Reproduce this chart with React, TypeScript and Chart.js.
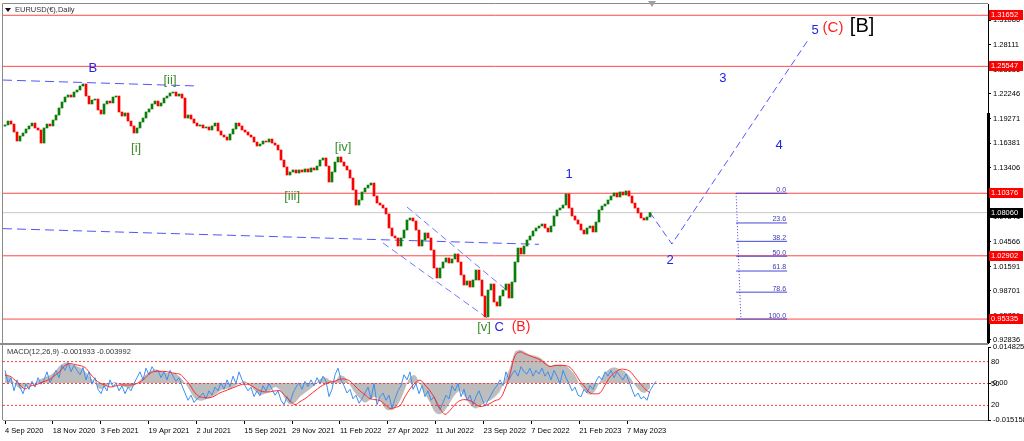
import React, { useEffect, useRef } from 'react';
import { Chart, registerables } from 'chart.js';

Chart.register(...registerables);

const FONT = '"Liberation Sans", Arial, sans-serif';

// ---------- DATA ----------
const firstOpen = 1.1840;
const closes = [
  1.1854, 1.1901, 1.1865, 1.1770, 1.1662, 1.1722, 1.1758, 1.1806, 1.1842, 1.1877, 1.1818, 1.1794,
  1.1638, 1.1818, 1.1865, 1.1842, 1.1913, 1.1973, 1.2057, 1.2129, 1.2188, 1.2212, 1.2188, 1.2248,
  1.2272, 1.2320, 1.2344, 1.2200, 1.2105, 1.2152, 1.2164, 1.2033, 1.1985, 1.2105, 1.2140, 1.2117,
  1.2188, 1.2200, 1.2009, 1.1961, 1.1997, 1.1901, 1.1842, 1.1758, 1.1818, 1.1889, 1.1937, 1.2009,
  1.2045, 1.2105, 1.2140, 1.2081, 1.2117, 1.2176, 1.2200, 1.2236, 1.2248, 1.2200, 1.2224, 1.2176,
  1.1937, 1.1973, 1.1925, 1.1877, 1.1842, 1.1854, 1.1818, 1.1830, 1.1794, 1.1842, 1.1877, 1.1782,
  1.1734, 1.1710, 1.1674, 1.1746, 1.1806, 1.1877, 1.1842, 1.1794, 1.1770, 1.1734, 1.1710, 1.1650,
  1.1603, 1.1626, 1.1662, 1.1650, 1.1686, 1.1638, 1.1614, 1.1555, 1.1435, 1.1352, 1.1256, 1.1292,
  1.1316, 1.1280, 1.1316, 1.1292, 1.1328, 1.1292, 1.1340, 1.1316, 1.1363, 1.1435, 1.1459, 1.1363,
  1.1172, 1.1292, 1.1411, 1.1471, 1.1411, 1.1363, 1.1316, 1.1220, 1.1077, 1.0897, 1.0957, 1.1053,
  1.1101, 1.1136, 1.1160, 1.1005, 1.0921, 1.0897, 1.0861, 1.0790, 1.0622, 1.0527, 1.0503, 1.0407,
  1.0503, 1.0598, 1.0718, 1.0742, 1.0706, 1.0598, 1.0407, 1.0479, 1.0563, 1.0503, 1.0359, 1.0144,
  1.0025, 1.0144, 1.0216, 1.0264, 1.0204, 1.0252, 1.0312, 1.0216, 1.0061, 0.9941, 0.9989, 0.9917,
  1.0001, 1.0120, 1.0001, 0.9810, 0.9560, 0.9881, 0.9953, 0.9738, 0.9690, 0.9810, 0.9881, 0.9953,
  0.9786, 0.9977, 1.0216, 1.0383, 1.0312, 1.0407, 1.0479, 1.0527, 1.0587, 1.0622, 1.0646, 1.0670,
  1.0622, 1.0575, 1.0646, 1.0766, 1.0838, 1.0861, 1.0897, 1.1030, 1.0861, 1.0766, 1.0718, 1.0670,
  1.0598, 1.0551, 1.0622, 1.0646, 1.0575, 1.0694, 1.0838, 1.0885, 1.0909, 1.0957, 1.1005, 1.1041,
  1.0993, 1.1053, 1.1017, 1.1065, 1.1005, 1.0921, 1.0861, 1.0802, 1.0742, 1.0718, 1.0754, 1.0806,
];

const priceTicks = [1.31086, 1.28111, 1.25136, 1.22246, 1.19271, 1.16381, 1.13406, 1.10431, 1.07541, 1.04566, 1.01591, 0.98701, 0.95726, 0.92836];
const levelLines = [1.31652, 1.25547, 1.10376, 1.02902, 0.95335];
const currentPrice = 1.0806;
const dateLabels = ['4 Sep 2020', '18 Nov 2020', '3 Feb 2021', '19 Apr 2021', '2 Jul 2021', '15 Sep 2021', '29 Nov 2021', '11 Feb 2022', '27 Apr 2022', '11 Jul 2022', '23 Sep 2022', '7 Dec 2022', '21 Feb 2023', '7 May 2023'];

const fibHigh = 1.10376;
const fibLow = 0.95335;
const fibLevels = [0, 23.6, 38.2, 50, 61.8, 78.6, 100];

// trend lines as [candle index, price]
const lineB = [[-0.67, 1.2391], [64, 1.2320]];
const lineLong = [[-0.67, 1.0615], [178, 1.0427]];
const wedgeUpper = [[134, 1.0873], [168.3, 0.9846]];
const wedgeLower = [[126, 1.0443], [160.7, 0.9547]];
const projection = [[215, 1.0806], [222.3, 1.0431], [267.7, 1.2870]];
const fibSpan = [243.7, 260.7];
const fibStem = [[243.7, 1.10376], [245.3, 0.95335]];

// wave labels: text, candle index, price, colour, font size
const BLUE = '#2222e8';
const GREEN = '#3a8f2c';
const RED = '#ff1f1f';
const waveLabels: [string, number, number, string, number][] = [
  ['B', 29.3, 1.2535, BLUE, 13],
  ['[ii]', 55, 1.2391, GREEN, 13],
  ['[i]', 43.7, 1.1579, GREEN, 13],
  ['[iii]', 95.7, 1.1005, GREEN, 13],
  ['[iv]', 112.7, 1.1591, GREEN, 13],
  ['[v]', 159.7, 0.9439, GREEN, 13],
  ['C', 164.7, 0.9439, BLUE, 13],
  ['(B)', 172, 0.9439, RED, 14],
  ['1', 188, 1.1268, BLUE, 13],
  ['2', 221.7, 1.0240, BLUE, 13],
  ['3', 239.3, 1.2415, BLUE, 13],
  ['4', 258, 1.1614, BLUE, 13],
  ['5', 270, 1.2989, BLUE, 13],
  ['(C)', 276, 1.3013, RED, 15],
  ['[B]', 285.7, 1.3037, '#000000', 20],
];

// MACD panel (samples every 5/3 candles)
const macdMain = [
  0.0044, 0.0024, -0.0004, -0.0024, -0.0016, -0.0008, 0, 0.0016, 0.0024, 0.0032, 0.0048, 0.0072,
  0.0084, 0.0080, 0.0072, 0.0064, 0.0048, 0.0024, 0, -0.0024, -0.0016, -0.0004, 0.0004, -0.0008,
  -0.0016, -0.0020, -0.0008, 0.0012, 0.0032, 0.0048, 0.0056, 0.0052, 0.0044, 0.0040, 0.0040, 0.0024,
  0, -0.0032, -0.0064, -0.0072, -0.0068, -0.0060, -0.0048, -0.0032, -0.0024, -0.0024, -0.0012, 0,
  0.0008, -0.0008, -0.0032, -0.0048, -0.0044, -0.0032, -0.0016, -0.0028, -0.0064, -0.0088, -0.0080, -0.0056,
  -0.0040, -0.0024, -0.0008, 0.0016, 0.0024, 0.0012, 0.0008, 0.0032, 0.0024, -0.0008, -0.0040, -0.0064,
  -0.0080, -0.0068, -0.0056, -0.0072, -0.0104, -0.0112, -0.0104, -0.0072, -0.0024, 0.0024, 0.0032, -0.0004,
  -0.0044, -0.0080, -0.0120, -0.0128, -0.0112, -0.0080, -0.0048, -0.0032, -0.0056, -0.0088, -0.0104, -0.0096,
  -0.0080, -0.0072, -0.0056, -0.0032, 0.0016, 0.0064, 0.0128, 0.0136, 0.0128, 0.0116, 0.0112, 0.0104,
  0.0088, 0.0072, 0.0076, 0.0076, 0.0072, 0.0056, 0.0032, -0.0008, -0.0032, -0.0048, -0.0032, 0.0008,
  0.0040, 0.0060, 0.0064, 0.0056, 0.0048, 0.0024, -0.0008, -0.0032, -0.0040, -0.0020,
];
const macdSignal = [
  0.0032, 0.0028, 0.0012, -0.0008, -0.0024, -0.0012, -0.0008, 0, 0.0008, 0.0016, 0.0032, 0.0048,
  0.0072, 0.0080, 0.0076, 0.0072, 0.0064, 0.0040, 0.0016, 0, -0.0008, -0.0016, -0.0012, -0.0008,
  -0.0008, -0.0008, -0.0004, 0.0004, 0.0020, 0.0040, 0.0048, 0.0048, 0.0048, 0.0044, 0.0040, 0.0036,
  0.0016, -0.0008, -0.0040, -0.0056, -0.0060, -0.0060, -0.0052, -0.0040, -0.0032, -0.0024, -0.0016, -0.0008,
  -0.0004, -0.0008, -0.0020, -0.0032, -0.0036, -0.0036, -0.0032, -0.0032, -0.0052, -0.0072, -0.0088, -0.0076,
  -0.0064, -0.0048, -0.0032, -0.0016, -0.0004, 0.0004, 0.0008, 0.0016, 0.0016, 0.0008, -0.0012, -0.0032,
  -0.0048, -0.0064, -0.0068, -0.0072, -0.0088, -0.0104, -0.0100, -0.0092, -0.0056, -0.0024, 0, 0.0012,
  -0.0008, -0.0032, -0.0064, -0.0104, -0.0128, -0.0112, -0.0088, -0.0072, -0.0068, -0.0072, -0.0084, -0.0096,
  -0.0092, -0.0084, -0.0072, -0.0064, -0.0024, 0.0036, 0.0112, 0.0128, 0.0120, 0.0112, 0.0104, 0.0096,
  0.0080, 0.0068, 0.0072, 0.0072, 0.0072, 0.0064, 0.0040, 0.0008, -0.0016, -0.0040, -0.0044, -0.0040,
  -0.0008, 0.0024, 0.0044, 0.0056, 0.0056, 0.0048, 0.0024, 0, -0.0024, -0.0040,
];
// oscillator (0-100 scale), one value per candle
const oscillator = [
  68, 51, 58, 40, 55, 45, 36, 49, 42, 53, 45, 58, 49, 55, 66, 51, 60, 68, 58, 75, 68, 79, 66, 75, 68, 62, 72, 55, 66, 49,
  58, 42, 36, 47, 40, 55, 45, 51, 40, 47, 36, 45, 40, 50, 58, 66, 55, 71, 62, 73, 66, 68, 58, 66, 55, 68, 60, 53, 58, 47,
  37, 27, 34, 24, 29, 32, 37, 29, 40, 34, 45, 40, 51, 42, 55, 46, 60, 50, 66, 55, 47, 40, 45, 32, 40, 33, 47, 40, 50, 42,
  34, 40, 27, 21, 32, 24, 37, 45, 51, 42, 53, 46, 55, 47, 58, 50, 60, 53, 32, 42, 62, 71, 55, 47, 37, 42, 29, 34, 23, 29,
  37, 45, 29, 50, 21, 32, 37, 27, 34, 16, 29, 40, 47, 62, 55, 66, 42, 50, 36, 47, 32, 40, 27, 32, 21, 14, 24, 34, 29, 47,
  40, 50, 32, 42, 27, 34, 21, 32, 40, 29, 19, 27, 34, 42, 47, 55, 47, 66, 55, 63, 68, 60, 73, 66, 63, 71, 60, 68, 63, 71,
  60, 66, 55, 68, 60, 50, 68, 58, 50, 40, 45, 34, 32, 42, 37, 47, 42, 53, 60, 55, 66, 60, 68, 58, 66, 60, 55, 63, 53, 42,
  32, 37, 29, 32, 27, 40, 47, 53,
];
const macdTicks = [0.014825, 0, -0.015158];
const oscLevels = [80, 50, 20];

// ---------- LAYOUT CONSTANTS ----------
const X_MIN = -0.67;
const X_MAX = 327.67;
const DATE_TICK_EVERY = 15.95;
const MACD_STEP = 5 / 3;

const seg = (pts: number[][], color: string, dash: number[] = [], order = 5, width = 1) => ({
  type: 'line' as const,
  data: pts.map(([x, y]) => ({ x, y })),
  borderColor: color,
  borderWidth: width,
  borderDash: dash,
  pointRadius: 0,
  fill: false,
  tension: 0,
  order,
});

const noPad = (s: any) => {
  s.paddingTop = 0;
  s.paddingBottom = 0;
  s.paddingLeft = 0;
  s.paddingRight = 0;
};

function mainConfig(): any {
  const opens = closes.map((c, i) => (i === 0 ? firstOpen : closes[i - 1]));
  const candles = {
    type: 'bar' as const,
    data: closes.map((c, i) => ({ x: i, y: [opens[i], c] })),
    backgroundColor: closes.map((c, i) => (c >= opens[i] ? '#0b7d0b' : '#ff0000')),
    borderWidth: 0,
    barThickness: 2,
    minBarLength: 1,
    grouped: false,
    order: 0,
  };
  const fibPrice = (p: number) => fibHigh - ((fibHigh - fibLow) * p) / 100;
  const datasets: any[] = [
    candles,
    ...levelLines.map((v) => seg([[X_MIN, v], [X_MAX, v]], 'rgba(255,40,40,0.85)', [], 8)),
    seg([[X_MIN, currentPrice], [X_MAX, currentPrice]], '#c8c8c8', [], 9),
    seg(lineB, 'rgba(40,40,255,0.8)', [9, 5], 4),
    seg(lineLong, 'rgba(40,40,255,0.8)', [9, 5], 4),
    seg(wedgeUpper, 'rgba(60,60,255,0.7)', [7, 4], 4),
    seg(wedgeLower, 'rgba(60,60,255,0.7)', [7, 4], 4),
    seg(projection, 'rgba(40,40,255,0.8)', [7, 4], 4),
    seg(fibStem, 'rgba(40,40,220,0.9)', [1, 2], 4),
    ...fibLevels.map((p) => seg([[fibSpan[0], fibPrice(p)], [fibSpan[1], fibPrice(p)]], 'rgba(50,50,210,0.9)', [], 3)),
  ];

  const annotate = {
    id: 'annotate',
    afterDraw(chart: any) {
      const { ctx, scales } = chart;
      const x = scales.x;
      const y = scales.y;
      ctx.save();
      // frame
      ctx.strokeStyle = '#8a8a8a';
      ctx.lineWidth = 1;
      ctx.beginPath();
      ctx.moveTo(2.5, 343.5);
      ctx.lineTo(2.5, 3.5);
      ctx.lineTo(988, 3.5);
      ctx.stroke();
      ctx.fillStyle = '#000';
      ctx.fillRect(987, 113, 3, 230);
      // chart shift marker
      ctx.fillStyle = '#a0a0a0';
      ctx.beginPath();
      ctx.moveTo(648, 1);
      ctx.lineTo(656, 1);
      ctx.lineTo(652, 7);
      ctx.closePath();
      ctx.fill();
      // title
      ctx.fillStyle = '#111';
      ctx.beginPath();
      ctx.moveTo(5, 8);
      ctx.lineTo(11, 8);
      ctx.lineTo(8, 12);
      ctx.closePath();
      ctx.fill();
      ctx.font = `7.5px ${FONT}`;
      ctx.fillStyle = '#333';
      ctx.textAlign = 'left';
      ctx.textBaseline = 'middle';
      ctx.fillText('EURUSD(€),Daily', 15, 10);
      // wave labels
      ctx.textAlign = 'center';
      waveLabels.forEach(([t, i, p, color, size]) => {
        ctx.font = `${size}px ${FONT}`;
        ctx.fillStyle = color;
        ctx.fillText(t, x.getPixelForValue(i), y.getPixelForValue(p));
      });
      // fib labels
      ctx.font = `7px ${FONT}`;
      ctx.fillStyle = '#3a3ab8';
      ctx.textAlign = 'right';
      ctx.textBaseline = 'bottom';
      fibLevels.forEach((p) => {
        const py = y.getPixelForValue(fibPrice(p));
        ctx.fillText(p.toFixed(1), x.getPixelForValue(fibSpan[1]) - 1, py);
      });
      // price boxes
      ctx.font = `7.5px ${FONT}`;
      ctx.textAlign = 'left';
      ctx.textBaseline = 'middle';
      const box = (v: number, bg: string) => {
        const py = Math.round(y.getPixelForValue(v));
        ctx.fillStyle = bg;
        ctx.fillRect(989, py - 5, 34, 10);
        ctx.fillStyle = '#fff';
        ctx.fillText(v.toFixed(5), 991, py);
      };
      levelLines.forEach((v) => box(v, '#ff0000'));
      box(currentPrice, '#000000');
      ctx.restore();
    },
  };

  return {
    type: 'bar',
    data: { datasets },
    plugins: [annotate],
    options: {
      responsive: false,
      animation: false,
      devicePixelRatio: 1,
      layout: { padding: { left: 3, top: 4, bottom: 1, right: 0 } },
      plugins: { legend: { display: false }, tooltip: { enabled: false } },
      scales: {
        x: { type: 'linear', min: X_MIN, max: X_MAX, display: false, offset: false },
        y: {
          position: 'right',
          min: 0.92477,
          max: 1.33,
          afterBuildTicks: (s: any) => {
            s.ticks = priceTicks.map((v) => ({ value: v }));
          },
          afterFit: (s: any) => {
            s.width = 36;
            noPad(s);
          },
          ticks: {
            callback: (v: any) => Number(v).toFixed(5),
            font: { size: 7.5, family: FONT },
            color: '#000',
            padding: 2,
            autoSkip: false,
          },
          grid: { drawOnChartArea: false, drawTicks: true, tickLength: 3, color: '#000' },
          border: { display: true, color: '#000' },
        },
      },
    },
  };
}

function macdConfig(): any {
  const datasets: any[] = [
    {
      type: 'line',
      data: macdMain.map((v, j) => ({ x: j * MACD_STEP, y: v })),
      yAxisID: 'y',
      borderWidth: 0,
      borderColor: 'rgba(0,0,0,0)',
      backgroundColor: '#bdbdbd',
      fill: 'origin',
      pointRadius: 0,
      tension: 0.3,
      order: 6,
    },
    ...oscLevels.map((v) => ({
      ...seg([[X_MIN, v], [X_MAX, v]], 'rgba(255,40,40,0.9)', [2, 2], 4),
      yAxisID: 'y2',
    })),
    {
      type: 'line',
      data: oscillator.map((v, k) => ({ x: k, y: v })),
      yAxisID: 'y2',
      borderColor: '#3b8ff0',
      borderWidth: 1,
      pointRadius: 0,
      fill: false,
      tension: 0,
      order: 2,
    },
    {
      type: 'line',
      data: macdSignal.map((v, j) => ({ x: j * MACD_STEP, y: v })),
      yAxisID: 'y',
      borderColor: '#ff2a2a',
      borderWidth: 1,
      pointRadius: 0,
      fill: false,
      tension: 0.4,
      order: 1,
    },
  ];

  const panel = {
    id: 'panel',
    afterDraw(chart: any) {
      const { ctx, scales } = chart;
      const y2 = scales.y2;
      ctx.save();
      ctx.fillStyle = '#8c8c8c';
      ctx.fillRect(0, 3, 988, 2);
      ctx.strokeStyle = '#8a8a8a';
      ctx.lineWidth = 1;
      ctx.beginPath();
      ctx.moveTo(2.5, 5);
      ctx.lineTo(2.5, 80);
      ctx.stroke();
      ctx.font = `7.5px ${FONT}`;
      ctx.fillStyle = '#333';
      ctx.textAlign = 'left';
      ctx.textBaseline = 'middle';
      ctx.fillText('MACD(12,26,9) -0.001933 -0.003992', 7, 12);
      ctx.fillStyle = '#000';
      oscLevels.forEach((v) => {
        ctx.fillText(String(v), 991, y2.getPixelForValue(v));
      });
      ctx.restore();
    },
  };

  return {
    type: 'line',
    data: { datasets },
    plugins: [panel],
    options: {
      responsive: false,
      animation: false,
      devicePixelRatio: 1,
      layout: { padding: { left: 3, top: 7, bottom: 0, right: 0 } },
      plugins: { legend: { display: false }, tooltip: { enabled: false } },
      scales: {
        x: {
          type: 'linear',
          min: X_MIN,
          max: X_MAX,
          offset: false,
          afterBuildTicks: (s: any) => {
            s.ticks = dateLabels.map((_, j) => ({ value: j * DATE_TICK_EVERY }));
          },
          afterFit: (s: any) => {
            s.height = 21;
            noPad(s);
          },
          ticks: {
            callback: (_v: any, i: number) => dateLabels[i] ?? '',
            align: 'start',
            autoSkip: false,
            maxRotation: 0,
            minRotation: 0,
            font: { size: 7.5, family: FONT },
            color: '#000',
            padding: 2,
          },
          grid: { drawOnChartArea: false, drawTicks: true, tickLength: 4, color: '#000' },
          border: { display: true, color: '#8a8a8a' },
        },
        y: {
          position: 'right',
          min: -0.015158,
          max: 0.014825,
          afterBuildTicks: (s: any) => {
            s.ticks = macdTicks.map((v) => ({ value: v }));
          },
          afterFit: (s: any) => {
            s.width = 36;
            noPad(s);
          },
          ticks: {
            callback: (v: any) => (Number(v) === 0 ? '0.00' : Number(v).toFixed(6)),
            font: { size: 7.5, family: FONT },
            color: '#000',
            padding: 2,
            autoSkip: false,
          },
          grid: { drawOnChartArea: false, drawTicks: true, tickLength: 3, color: '#000' },
          border: { display: true, color: '#000' },
        },
        y2: { display: false, min: 0, max: 100 },
      },
    },
  };
}

export default function App() {
  const mainRef = useRef<HTMLCanvasElement>(null);
  const macdRef = useRef<HTMLCanvasElement>(null);
  useEffect(() => {
    Chart.defaults.font.family = FONT;
    const main = new Chart(mainRef.current!, mainConfig());
    const macd = new Chart(macdRef.current!, macdConfig());
    return () => {
      main.destroy();
      macd.destroy();
    };
  }, []);
  return (
    <div style={{ position: 'fixed', left: 0, top: 0, width: 1024, height: 441, background: '#fff', overflow: 'hidden' }}>
      <canvas ref={mainRef} width={1024} height={344} style={{ position: 'absolute', left: 0, top: 0 }} />
      <canvas ref={macdRef} width={1024} height={101} style={{ position: 'absolute', left: 0, top: 340 }} />
    </div>
  );
}
